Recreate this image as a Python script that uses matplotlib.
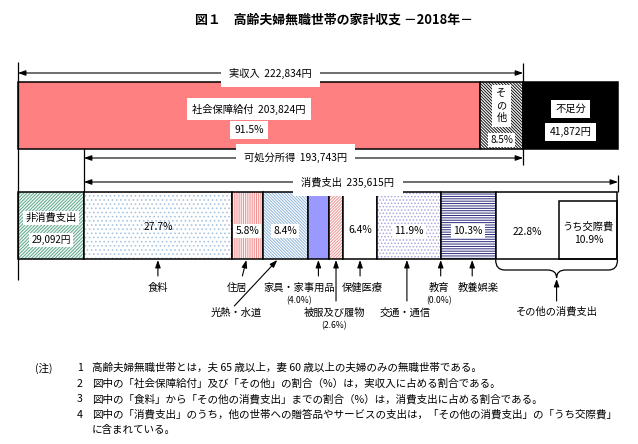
import matplotlib
matplotlib.use('Agg')
import matplotlib.pyplot as plt
from matplotlib.path import Path
from matplotlib.patches import PathPatch

plt.rcParams['font.family'] = ['Noto Sans CJK JP', 'DejaVu Sans']
plt.rcParams['hatch.linewidth'] = 0.7

# ---------------- data ----------------
actual_income = 222834
social_security = 203824
other_income = 19010
shortfall = 41872
non_consumption = 29092
disposable_income = 193743
consumption = 235615
social_share = 91.5
other_share = 8.5
kousai_share = 10.9

categories = ['食料', '住居', '光熱・水道', '家具・家事用品', '被服及び履物',
              '保健医療', '交通・通信', '教育', '教養娯楽', 'その他の消費支出']
shares = [27.7, 5.8, 8.4, 4.0, 2.6, 6.4, 11.9, 0.0, 10.3, 22.8]

title = '図１　高齢夫婦無職世帯の家計収支 －2018年－'
notes = [
    ('(注)', '1', '高齢夫婦無職世帯とは，夫 65 歳以上，妻 60 歳以上の夫婦のみの無職世帯である。'),
    ('', '2', '図中の「社会保障給付」及び「その他」の割合（%）は，実収入に占める割合である。'),
    ('', '3', '図中の「食料」から「その他の消費支出」までの割合（%）は，消費支出に占める割合である。'),
    ('', '4', '図中の「消費支出」のうち，他の世帯への贈答品やサービスの支出は，「その他の消費支出」の「うち交際費」'),
    ('', '', 'に含まれている。'),
]

# ---------------- layout ----------------
W, H = 638, 444
fig = plt.figure(figsize=(W / 100, H / 100), dpi=100)
ax = fig.add_axes([0, 0, 1, 1])
total = actual_income + shortfall
left_px, right_px = 18, 618
k = (right_px - left_px) / total
ax.set_xlim(-left_px / k, (W - left_px) / k)
ax.set_ylim(H, 0)
ax.axis('off')


def px(d):
    return d / k


FS = 7.4
white = dict(facecolor='white', edgecolor='none', pad=1.5)
arrow_kw = dict(arrowstyle='-|>,head_length=0.45,head_width=0.16', lw=0.8,
                color='black', shrinkA=0, shrinkB=0)
dbl_kw = dict(arrowstyle='<|-|>,head_length=0.45,head_width=0.16', lw=0.8,
              color='black', shrinkA=0, shrinkB=0)

ax.text(px(316), 20, title, ha='center', va='center', fontsize=9.3, fontweight='bold')

# ---------- top bar (income) ----------
ty0, ty1 = 82, 149
tyc, th = (ty0 + ty1) / 2, ty1 - ty0
ax.barh(tyc, social_security, left=0, height=th, color='#FF8080',
        edgecolor='black', lw=1.1)
ax.barh(tyc, other_income, left=social_security, height=th, color='white',
        edgecolor='#111111', lw=0, hatch='\\' * 11)
ax.barh(tyc, other_income, left=social_security, height=th, fill=False,
        edgecolor='black', lw=1.1)
ax.barh(tyc, shortfall, left=actual_income, height=th, color='black',
        edgecolor='black', lw=1.1)

ax.text(social_security / 2, 109, f'社会保障給付  {social_security:,}円', ha='center',
        va='center', fontsize=FS, bbox=dict(facecolor='white', edgecolor='none', pad=4))
ax.text(social_security / 2, 130, f'{social_share}%', ha='center', va='center',
        fontsize=FS, bbox=dict(facecolor='white', edgecolor='none', pad=3))
ox = social_security + other_income / 2
ax.text(ox, 106, 'そ\nの\n他', ha='center', va='center', fontsize=FS,
        linespacing=1.25, bbox=dict(facecolor='white', edgecolor='none', pad=3))
ax.text(ox, 140, f'{other_share}%', ha='center', va='center', fontsize=FS - 0.3,
        bbox=dict(facecolor='white', edgecolor='none', pad=1.5))
sx = actual_income + shortfall / 2
ax.text(sx, 109, '不足分', ha='center', va='center', fontsize=FS,
        bbox=dict(facecolor='white', edgecolor='none', pad=3))
ax.text(sx, 132, f'{shortfall:,}円', ha='center', va='center', fontsize=FS,
        bbox=dict(facecolor='white', edgecolor='none', pad=3))

# brackets / arrows
ax.vlines(0, 62, 280, color='black', lw=0.9)
ax.vlines(actual_income, 63, 165, color='black', lw=0.9)
ax.vlines(non_consumption, ty1, 192, color='black', lw=0.9)
ax.vlines(total, 175, 192, color='black', lw=0.9)

ax.annotate('', xy=(0, 73), xytext=(actual_income, 73), arrowprops=dbl_kw)
ax.text(actual_income / 2, 73, f'実収入  {actual_income:,}円', ha='center',
        va='center', fontsize=FS, bbox=dict(facecolor='white', edgecolor='none', pad=6))
ax.annotate('', xy=(non_consumption, 158), xytext=(actual_income, 158), arrowprops=dbl_kw)
ax.text((non_consumption + actual_income) / 2 - px(8), 158,
        f'可処分所得  {disposable_income:,}円', ha='center', va='center', fontsize=FS,
        bbox=dict(facecolor='white', edgecolor='none', pad=6))
ax.annotate('', xy=(non_consumption, 182), xytext=(total, 182), arrowprops=dbl_kw)
ax.text((non_consumption + total) / 2 - px(3), 182, f'消費支出  {consumption:,}円',
        ha='center', va='center', fontsize=FS,
        bbox=dict(facecolor='white', edgecolor='none', pad=6))

# ---------- bottom bar (expenditure) ----------
by0, by1 = 192, 259
byc, bh = (by0 + by1) / 2, by1 - by0
ax.barh(byc, non_consumption, left=0, height=bh, color='#F2F8F4',
        edgecolor='#5FA88E', lw=0, hatch='/' * 10)
ax.barh(byc, non_consumption, left=0, height=bh, fill=False, edgecolor='black', lw=1.1)
ax.text(non_consumption / 2, 218, '非消費支出', ha='center', va='center', fontsize=FS,
        bbox=white)
ax.text(non_consumption / 2, 240, f'{non_consumption:,}円', ha='center', va='center',
        fontsize=FS - 0.4, bbox=white)

styles = [
    dict(color='white', hatch='.' * 4, hc='#A9C6E0'),
    dict(color='white', hatch='|' * 9, hc='#F09090'),
    dict(color='white', hatch='\\' * 11, hc='#8FB5DB'),
    dict(color='#9999FF', hatch=None, hc='#9999FF'),
    dict(color='white', hatch='/' * 11, hc='#F09090'),
    dict(color='white', hatch=None, hc='white'),
    dict(color='white', hatch='.' * 5, hc='#A8A8E0'),
    dict(color='white', hatch=None, hc='white'),
    dict(color='white', hatch='-' * 7, hc='#2B2B7A'),
    dict(color='white', hatch=None, hc='white'),
]
widths = [s / 100 * consumption for s in shares]
lefts = []
acc = non_consumption
for w in widths:
    lefts.append(acc)
    acc += w
for l, w, st in zip(lefts, widths, styles):
    if w <= 0:
        continue
    ax.barh(byc, w, left=l, height=bh, color=st['color'], edgecolor=st['hc'],
            lw=0, hatch=st['hatch'])
    ax.barh(byc, w, left=l, height=bh, fill=False, edgecolor='black', lw=1.1)

centers = [l + w / 2 for l, w in zip(lefts, widths)]

# うち交際費 box
kw_ = kousai_share / 100 * consumption
end = lefts[-1] + widths[-1]
ax.barh((201 + by1) / 2, kw_, left=end - kw_, height=by1 - 201, fill=False,
        edgecolor='black', lw=1.1)
ax.text(end - kw_ / 2, 227, 'うち交際費', ha='center', va='center', fontsize=FS)
ax.text(end - kw_ / 2, 240, f'{kousai_share}%', ha='center', va='center', fontsize=FS)

# percentage labels
pct_y = [227, 231, 231, 0, 0, 230, 231, 0, 231, 232]
boxed = [False, True, True, False, False, False, True, False, True, False]
for i, (c, s) in enumerate(zip(centers, shares)):
    if pct_y[i] == 0:
        continue
    x = c
    if i == len(shares) - 1:
        x = (lefts[i] + end - kw_) / 2
    ax.text(x, pct_y[i], f'{s}%', ha='center', va='center', fontsize=FS,
            bbox=white if boxed[i] else None)

# category labels with arrows: (text dx px, text y, arrow tail dx, tail y, tip dx)
lab = [
    (0, 288, 0, 276, 0),
    (-10, 288, -5, 276, -1),
    (-49, 313, -51, 306, -8),
    (-19, 288, 0, 276, 0),
    (-2, 313, 0, 301, 0),
    (2, 288, 0, 276, 0),
    (-4, 313, -2, 301, -2),
    (-2, 288, 0, 276, 0),
    (10, 288, 4, 276, 4),
]
for i, (tdx, ty, adx, ay, tipdx) in enumerate(lab):
    c = centers[i]
    ax.annotate('', xy=(c + px(tipdx), by1 + 1), xytext=(c + px(adx), ay),
                arrowprops=arrow_kw)
    ax.text(c + px(tdx), ty, categories[i], ha='center', va='center', fontsize=FS)
    if i in (3, 4, 7):
        ax.text(c + px(tdx), ty + 12.5, f'({shares[i]:.1f}%)', ha='center',
                va='center', fontsize=FS - 1.2)

# brace under その他の消費支出
L, R = lefts[-1], end
M = (L + R) / 2
y0, y1, y2 = by1 + 1, 270, 278
verts = [(L, y0), (L, y1), (L + px(9), y1), (M - px(9), y1), (M, y1), (M, y2),
         (M, y1), (M + px(9), y1), (R - px(9), y1), (R, y1), (R, y0)]
codes = [Path.MOVETO, Path.CURVE3, Path.CURVE3, Path.LINETO, Path.CURVE3, Path.CURVE3,
         Path.CURVE3, Path.CURVE3, Path.LINETO, Path.CURVE3, Path.CURVE3]
ax.add_patch(PathPatch(Path(verts, codes), fill=False, lw=0.9, edgecolor='black'))
ax.annotate('', xy=(M, y2 + 1), xytext=(M, 301), arrowprops=arrow_kw)
ax.text(M, 312, categories[-1], ha='center', va='center', fontsize=FS)

# ---------- notes ----------
ny = 368
for a, n, t in notes:
    if a:
        ax.text(px(35 - left_px), ny, a, ha='left', va='center', fontsize=7.6)
    if n:
        ax.text(px(77 - left_px), ny, n, ha='left', va='center', fontsize=7.6)
    ax.text(px(92 - left_px), ny, t, ha='left', va='center', fontsize=7.6)
    ny += 15.5

fig.savefig('out.png', dpi=100)
